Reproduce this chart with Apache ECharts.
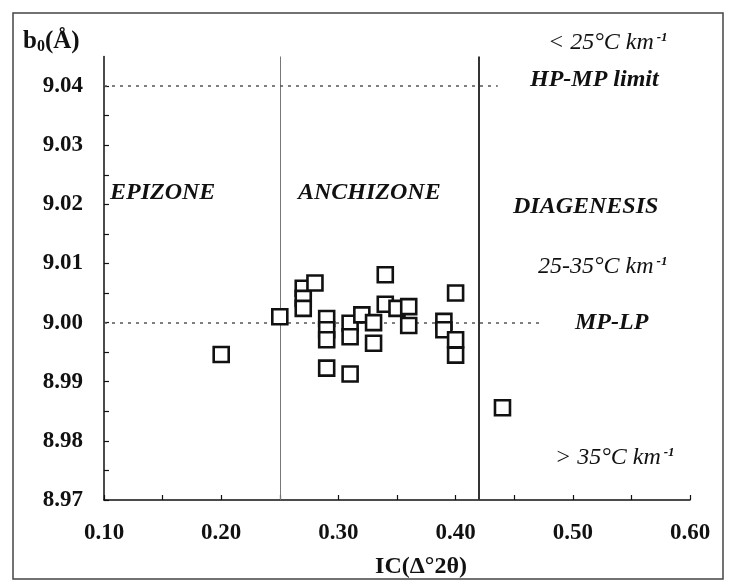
<!DOCTYPE html>
<html>
<head>
<meta charset="utf-8">
<script src="https://cdn.jsdelivr.net/npm/echarts@6/dist/echarts.min.js"></script>
<style>html,body{margin:0;padding:0;background:#fff}#c{width:730px;height:582px}</style>
</head>
<body>
<div id="c"></div>
<script>
// ---- data ----
var icValues = [0.20, 0.25, 0.27, 0.27, 0.27, 0.28, 0.29, 0.29, 0.29, 0.29, 0.31, 0.31, 0.31, 0.32, 0.33, 0.33, 0.34, 0.34, 0.35, 0.36, 0.36, 0.39, 0.39, 0.40, 0.40, 0.40, 0.44];
var b0Values = [8.9946, 9.0010, 9.0058, 9.0041, 9.0024, 9.0067, 9.0007, 8.9988, 8.9971, 8.9923, 8.9999, 8.9976, 8.9913, 9.0013, 9.0000, 8.9965, 9.0081, 9.0031, 9.0024, 9.0027, 8.9995, 9.0002, 8.9988, 9.0050, 8.9971, 8.9945, 8.9856];
var zoneBoundaries = [0.25, 0.42];            // EPIZONE/ANCHIZONE, ANCHIZONE/DIAGENESIS
var pressureLimits = [9.04, 9.00];           // HP-MP limit, MP-LP
var pressureLineEnds = [0.436, 0.474];       // where the dashed lines stop (IC units)
var xTickLabels = ['0.10', '0.20', '0.30', '0.40', '0.50', '0.60'];
var yTickLabels = ['8.97', '8.98', '8.99', '9.00', '9.01', '9.02', '9.03', '9.04'];

var points = icValues.map(function (x, i) { return [x, b0Values[i]]; });
var SERIF = '"Liberation Serif", "DejaVu Serif", serif';

var chart = echarts.init(document.getElementById('c'), null, {renderer: 'canvas'});

function txt(text, x, y, font, rich) {
  var s = {text: text, x: x, y: y, font: font, fill: '#111',
           textAlign: 'left', align: 'left', textVerticalAlign: 'middle', verticalAlign: 'middle'};
  if (rich) s.rich = rich;
  return {type: 'text', silent: true, z: 10, style: s};
}
var italicRich = {
  a: {fontFamily: SERIF, fontStyle: 'italic', fontSize: 24, fill: '#111', color: '#111'},
  s: {fontFamily: SERIF, fontStyle: 'italic', fontWeight: 'bold', fontSize: 13, verticalAlign: 'top', fill: '#111', color: '#111', padding: [0, 0, 0, 3]}
};
var BI = 'italic bold 24px ' + SERIF;

var option = {
  animation: false,
  backgroundColor: '#fff',
  grid: {left: 104, right: 40, top: 56.5, bottom: 82},
  xAxis: {
    type: 'value', min: 0.10, max: 0.60, interval: 0.05,
    axisLine: {lineStyle: {color: '#111', width: 1.5}},
    axisTick: {inside: true, length: 5, lineStyle: {color: '#111', width: 1.2}},
    splitLine: {show: false},
    axisLabel: {
      margin: 22, color: '#111', fontFamily: SERIF, fontWeight: 'bold', fontSize: 23,
      formatter: function (v) {
        var s = v.toFixed(2);
        return xTickLabels.indexOf(s) >= 0 ? s : '';
      }
    }
  },
  yAxis: {
    type: 'value', min: 8.97, max: 9.045, interval: 0.005,
    axisLine: {show: true, lineStyle: {color: '#111', width: 1.5}},
    axisTick: {show: true, inside: true, length: 5, lineStyle: {color: '#111', width: 1.2}},
    splitLine: {show: false},
    axisLabel: {
      margin: 21, color: '#111', fontFamily: SERIF, fontWeight: 'bold', fontSize: 23,
      showMaxLabel: false,
      formatter: function (v) {
        var s = v.toFixed(2);
        return (Math.abs(v - parseFloat(s)) < 1e-6 && yTickLabels.indexOf(s) >= 0) ? s : '';
      }
    }
  },
  series: [{
    type: 'scatter',
    data: points,
    symbol: 'rect',
    symbolSize: 15,
    itemStyle: {color: '#fff', borderColor: '#111', borderWidth: 2.6, opacity: 1},
    z: 5,
    markLine: {
      silent: true, symbol: 'none', animation: false,
      label: {show: false},
      data: [
        {xAxis: zoneBoundaries[0], lineStyle: {type: 'solid', color: '#777', width: 1}},
        {xAxis: zoneBoundaries[1], lineStyle: {type: 'solid', color: '#333', width: 2}},
        [{coord: [0.10, pressureLimits[0]], lineStyle: {type: [3, 5], color: '#555', width: 1.6}},
         {coord: [pressureLineEnds[0], pressureLimits[0]]}],
        [{coord: [0.10, pressureLimits[1]], lineStyle: {type: [3, 5], color: '#555', width: 1.6}},
         {coord: [pressureLineEnds[1], pressureLimits[1]]}]
      ]
    }
  }],
  graphic: [
    {type: 'rect', silent: true, z: 0, shape: {x: 13, y: 13, width: 710, height: 566},
     style: {fill: 'none', stroke: '#444', lineWidth: 1.5}},
    txt('{b|b}{sub|0}{b|(Å)}', 23, 42, 'bold 25px ' + SERIF, {
      b: {fontFamily: SERIF, fontWeight: 'bold', fontSize: 25, fill: '#111', color: '#111'},
      sub: {fontFamily: SERIF, fontWeight: 'bold', fontSize: 16, verticalAlign: 'bottom', fill: '#111', color: '#111'}
    }),
    txt('{a|< 25°C km}{s|-1}', 548, 43, 'italic 24px ' + SERIF, italicRich),
    txt('HP-MP limit', 530, 80, BI),
    txt('EPIZONE', 110, 193, BI),
    txt('ANCHIZONE', 298, 193, BI),
    txt('DIAGENESIS', 513, 207, BI),
    txt('{a|25-35°C km}{s|-1}', 538, 267, 'italic 24px ' + SERIF, italicRich),
    txt('MP-LP', 575, 323, BI),
    txt('{a|> 35°C km}{s|-1}', 555, 458, 'italic 24px ' + SERIF, italicRich),
    {type: 'text', silent: true, z: 10,
     style: {text: 'IC(Δ°2θ)', x: 421, y: 567, font: 'bold 24px ' + SERIF, fill: '#111',
             textAlign: 'center', align: 'center', textVerticalAlign: 'middle', verticalAlign: 'middle'}}
  ]
};
chart.setOption(option);
</script>
</body>
</html>
